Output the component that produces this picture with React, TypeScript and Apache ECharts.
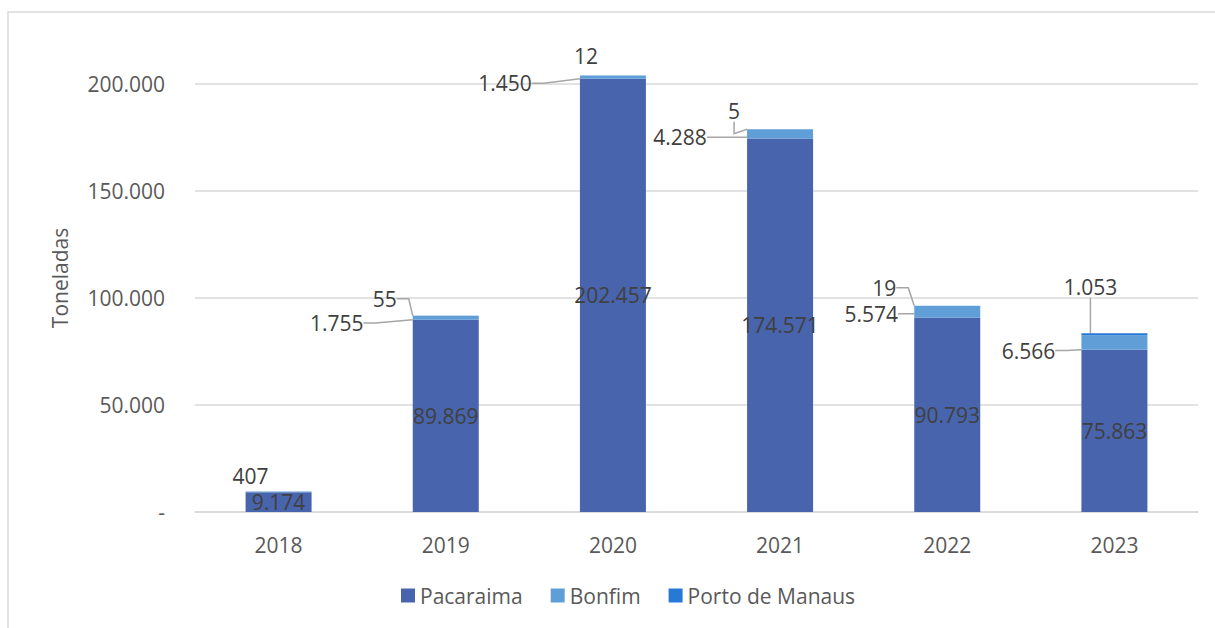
import React, { useEffect, useRef } from "react";
import * as echarts from "echarts";

const categories = ["2018", "2019", "2020", "2021", "2022", "2023"];
const pacaraima = [9174, 89869, 202457, 174571, 90793, 75863];
const bonfim = [407, 1755, 1450, 4288, 5574, 6566];
const portoManaus: (number | null)[] = [null, 55, 12, 5, 19, 1053];
const yTicks = [0, 50000, 100000, 150000, 200000];

// label placement (offsets from bar centre / segment top), styling only
const bonfimLabelOffsets: [number, number][] = [[-28, -15.5], [-109, 7], [-108, 7.5], [-100, 8], [-76, 8], [-86, 15]];
const bonfimLine = [false, true, true, true, true, true];
const portoLabelOffsets: ([number, number] | null)[] = [null, [-61, -17], [-27, -20], [-46, -18], [-63, -18], [-24, -46]];
const portoLine = [false, true, false, true, true, true];

const fmt = (v: number) => String(Math.round(v)).replace(/\B(?=(\d{3})+(?!\d))/g, ".");

const FONT = "'Open Sans', 'Noto Sans', sans-serif";
const FS = 21;
const TXT = "#595959";
const LBL = "#404040";

export default function App() {
  const ref = useRef<HTMLDivElement>(null);
  useEffect(() => {
    document.body.style.margin = "0";
    if (!ref.current) return;
    const chart = echarts.init(ref.current, undefined, { renderer: "svg" });

    const makeLayout = (offs: ([number, number] | null)[]) => (p: any) => {
      const o = offs[p.dataIndex];
      if (!o) return {};
      const r = p.rect;
      const top = Math.min(r.y, r.y + r.height);
      return {
        x: r.x + r.width / 2 + o[0],
        y: top + o[1],
        align: "center",
        verticalAlign: "middle",
      };
    };

    const lineStyle = { color: "#a6a6a6", width: 1.5 };

    chart.setOption({
      animation: false,
      textStyle: { fontFamily: FONT },
      graphic: [
        {
          type: "rect",
          shape: { x: 8, y: 12, width: 1230, height: 700 },
          style: { fill: "none", stroke: "#d9d9d9", lineWidth: 1.5 },
          silent: true,
        },
      ],
      grid: { left: 195, right: 17, top: 84, bottom: 116 },
      legend: {
        top: 580,
        left: 396,
        icon: "rect",
        itemWidth: 14,
        itemHeight: 14,
        itemGap: 28,
        textStyle: { fontSize: FS, color: TXT, fontFamily: FONT },
        data: ["Pacaraima", "Bonfim", "Porto de Manaus"],
      },
      xAxis: {
        type: "category",
        data: categories,
        axisLine: { lineStyle: { color: "#d9d9d9", width: 1.5 } },
        axisTick: { show: false },
        axisLabel: { color: TXT, fontSize: FS, margin: 22, fontFamily: FONT },
      },
      yAxis: {
        type: "value",
        min: yTicks[0],
        max: yTicks[yTicks.length - 1],
        interval: 50000,
        name: "Toneladas",
        nameLocation: "middle",
        nameGap: 125,
        nameTextStyle: { fontSize: FS, color: TXT, fontFamily: FONT, padding: [0, 0, 0, 40] },
        axisLine: { show: false },
        axisTick: { show: false },
        splitLine: { lineStyle: { color: "#d9d9d9", width: 1.5 } },
        axisLabel: {
          color: TXT,
          fontSize: FS,
          margin: 30,
          fontFamily: FONT,
          formatter: (v: number) => (v === 0 ? "-" : fmt(v)),
        },
      },
      series: [
        {
          name: "Pacaraima",
          type: "bar",
          stack: "t",
          barWidth: 66,
          clip: false,
          data: pacaraima,
          itemStyle: { color: "#4864ac" },
          label: {
            show: true,
            position: "inside",
            color: LBL,
            fontSize: FS,
            fontFamily: FONT,
            formatter: (p: any) => fmt(p.value),
          },
        },
        {
          name: "Bonfim",
          type: "bar",
          stack: "t",
          barWidth: 66,
          clip: false,
          data: bonfim.map((v, i) => ({ value: v, labelLine: { show: bonfimLine[i] } })),
          itemStyle: { color: "#5f9ed6" },
          label: {
            show: true,
            position: "inside",
            color: LBL,
            fontSize: FS,
            fontFamily: FONT,
            padding: [0, 5],
            formatter: (p: any) => fmt(p.value),
          },
          labelLine: { show: true, length2: 12, lineStyle },
          labelLayout: makeLayout(bonfimLabelOffsets),
        },
        {
          name: "Porto de Manaus",
          type: "bar",
          stack: "t",
          barWidth: 66,
          clip: false,
          data: portoManaus.map((v, i) => ({
            value: v,
            label: { show: v != null },
            labelLine: { show: portoLine[i] },
          })),
          itemStyle: { color: "#2679d4" },
          label: {
            show: true,
            position: "inside",
            color: LBL,
            fontSize: FS,
            fontFamily: FONT,
            padding: [0, 5],
            formatter: (p: any) => (p.value == null ? "" : fmt(p.value)),
          },
          labelLine: { show: true, length2: 12, lineStyle },
          labelLayout: makeLayout(portoLabelOffsets),
        },
      ],
    });
    return () => chart.dispose();
  }, []);
  return <div ref={ref} style={{ width: 1215, height: 628 }} />;
}
